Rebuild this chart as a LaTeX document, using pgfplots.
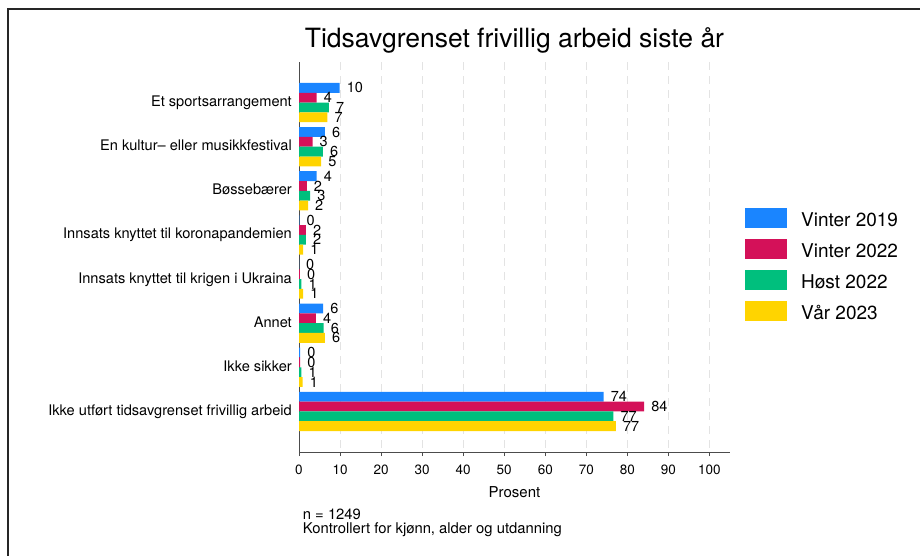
\documentclass[border=0pt]{standalone}
\usepackage{pgfplots}
\pgfplotsset{compat=1.18}
\usepackage{pgfplotstable}
\usepackage{fontspec}
\setmainfont{TeX Gyre Heros}
\definecolor{cblue}{HTML}{1A85FF}
\definecolor{ccrim}{HTML}{D41159}
\definecolor{cgreen}{HTML}{00BF7D}
\definecolor{cyell}{HTML}{FFD400}
\pgfplotstableread{
pos w19 w22 h22 v23
0 9.9 4.3 7.3 6.9
1 6.3 3.3 5.8 5.4
2 4.3 1.9 2.7 2.2
3 0.1 1.7 1.7 1.0
4 0.0 0.2 0.6 1.0
5 5.9 4.1 6.0 6.3
6 0.3 0.3 0.6 0.9
7 74.2 84.1 76.6 77.2
}\datatable
\begin{document}
\begin{tikzpicture}
\useasboundingbox (0,0) rectangle (920bp,556bp);
\draw[line width=2bp, black!85] (8.3bp,0) -- (8.3bp,547bp) -- (920bp,547bp);
\begin{axis}[
  at={(299bp,104bp)}, anchor=south west,
  scale only axis, width=431bp, height=390bp,
  xbar, bar width=9.8bp,
  legend image code/.code={\fill[#1] (0bp,-1.4bp) rectangle (42bp,18.6bp); \path (54bp,0bp);},
  xmin=0, xmax=105, ymin=-0.92, ymax=7.92, y dir=reverse,
  axis x line*=bottom, axis y line*=left,
  axis line style={-, black!70, line width=1bp},
  xtick={0,10,...,100}, tick align=outside, major tick length=4bp,
  xtick style={black!70, line width=0.8bp},
  ytick={0,...,7}, ytick style={draw=none},
  yticklabels={Et sportsarrangement, En kultur– eller musikkfestival, Bøssebærer, Innsats knyttet til koronapandemien, Innsats knyttet til krigen i Ukraina, Annet, Ikke sikker, Ikke utført tidsavgrenset frivillig arbeid},
  yticklabel style={anchor=base east, inner sep=0pt, xshift=-3bp, yshift=-4bp, font=\fontsize{14.6bp}{18bp}\selectfont},
  xticklabel style={anchor=base, inner sep=0pt, yshift=-18bp, font=\fontsize{13.5bp}{16bp}\selectfont},
  /pgf/number format/assume math mode=true,
  xmajorgrids, major grid style={gray!22, line width=1bp, dash pattern=on 8bp off 6bp},
  title={Tidsavgrenset frivillig arbeid siste år},
  title style={at={(axis description cs:0.5,1)}, anchor=base, inner sep=0pt, yshift=9bp, font=\fontsize{26.5bp}{30bp}\selectfont},
  xlabel={Prosent},
  xlabel style={at={(axis description cs:0.5,0)}, anchor=base, inner sep=0pt, yshift=-45bp, font=\fontsize{15bp}{18bp}\selectfont},
  point meta=x,
  nodes near coords={\pgfmathprintnumber[fixed,precision=0,assume math mode=true]{\pgfplotspointmeta}},
  every node near coord/.append style={anchor=west, inner sep=0pt, xshift=7bp, font=\fontsize{14.5bp}{17bp}\selectfont, black},
  legend style={at={(1.0348,0.6315)}, anchor=north west, draw=none, fill=none, inner sep=0pt, row sep=7bp, column sep=0pt,
    cells={anchor=base west, inner sep=0pt, text height=18.6bp, text depth=1.4bp, font=\fontsize{19bp}{22bp}\selectfont}},
]
\addplot[fill=cblue, draw=none, bar shift=14.7bp] table[x=w19, y=pos] {\datatable};
\addlegendentry{Vinter 2019}
\addplot[fill=ccrim, draw=none, bar shift=4.9bp] table[x=w22, y=pos] {\datatable};
\addlegendentry{Vinter 2022}
\addplot[fill=cgreen, draw=none, bar shift=-4.9bp] table[x=h22, y=pos] {\datatable};
\addlegendentry{Høst 2022}
\addplot[fill=cyell, draw=none, bar shift=-14.7bp] table[x=v23, y=pos] {\datatable};
\addlegendentry{Vår 2023}
\end{axis}
\node[anchor=base west, inner sep=0pt, font=\fontsize{14.8bp}{17bp}\selectfont] at (302.7bp,37bp) {n = 1249};
\node[anchor=base west, inner sep=0pt, font=\fontsize{14.8bp}{17bp}\selectfont] at (302.7bp,23bp) {Kontrollert for kjønn, alder og utdanning};
\end{tikzpicture}
\end{document}
